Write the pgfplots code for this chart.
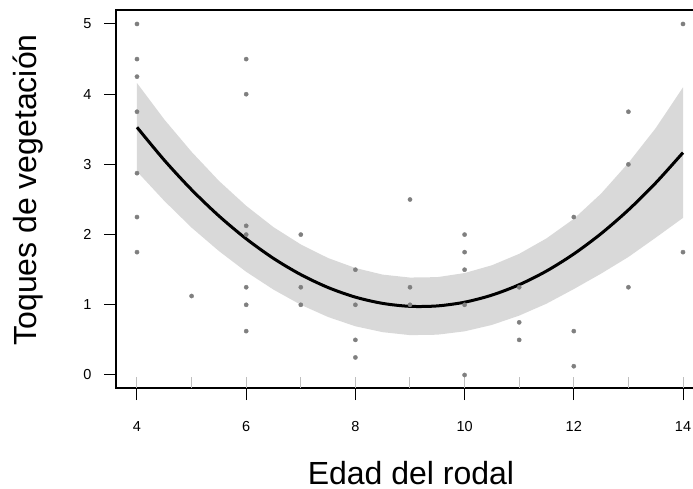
\documentclass[border=0pt]{standalone}
\usepackage{fontspec}
\setmainfont{Liberation Sans}
\usepackage{pgfplots}
\pgfplotsset{compat=1.18}
\definecolor{band}{HTML}{D9D9D9}
\definecolor{pts}{HTML}{7F7F7F}
\definecolor{rug}{HTML}{BFBFBF}
\begin{document}
\begin{tikzpicture}
\begin{axis}[
  scale only axis,
  width=584bp, height=378bp,
  xmin=3.6154, xmax=14.3114,
  ymin=-0.1852, ymax=5.1994,
  axis line style={line width=1.3bp, black},
  xtick={4,6,8,10,12,14},
  ytick={0,1,2,3,4,5},
  xtick pos=left, ytick pos=left,
  tick align=outside,
  major tick length=12bp,
  tick style={line width=1bp, black},
  /pgf/number format/assume math mode=true,
  ticklabel style={font=\fontsize{14.5bp}{17bp}\selectfont},
  xticklabel shift=18bp,
  yticklabel shift=9bp,
  extra x ticks={4,5,6,7,8,9,10,11,12,13,14},
  extra x tick labels={},
  extra x tick style={xtick pos=left, tick align=inside, major tick length=11bp, tick style={line width=1bp, rug}},
  xlabel={Edad del rodal},
  ylabel={Toques de vegetación},
  xlabel style={font=\fontsize{32bp}{38bp}\selectfont, at={(axis description cs:0.5051,-0.2540)}, anchor=base, inner sep=0pt},
  ylabel style={font=\fontsize{32bp}{38bp}\selectfont, at={(axis description cs:-0.1353,0.524)}, anchor=base, rotate=0, inner sep=0pt},
  clip mode=individual,
]
\coordinate (SW) at (rel axis cs:0,0);
\coordinate (NW) at (rel axis cs:0,1);
% confidence band: upper edge left to right, lower edge right to left
\addplot[fill=band, draw=none] coordinates {
(4,4.159) (4.5,3.640) (5,3.179) (5.5,2.766) (6,2.410) (6.5,2.106) (7,1.860) (7.5,1.666) (8,1.524) (8.5,1.430) (9,1.388) (9.5,1.394) (10,1.452) (10.5,1.563) (11,1.726) (11.5,1.946) (12,2.224) (12.5,2.584) (13,3.021) (13.5,3.516) (14,4.098)
(14,2.238) (13.5,1.956) (13,1.681) (12.5,1.444) (12,1.224) (11.5,1.016) (11,0.846) (10.5,0.713) (10,0.622) (9.5,0.574) (9,0.568) (8.5,0.610) (8,0.694) (7.5,0.826) (7,1.000) (6.5,1.216) (6,1.470) (5.5,1.766) (5,2.099) (4.5,2.480) (4,2.899)
} -- cycle;
% fitted curve
\addplot[black, line width=3bp, smooth] coordinates {
(4,3.529) (4.5,3.060) (5,2.639) (5.5,2.266) (6,1.940) (6.5,1.661) (7,1.430) (7.5,1.246) (8,1.109) (8.5,1.020) (9,0.978) (9.5,0.984) (10,1.037) (10.5,1.138) (11,1.286) (11.5,1.481) (12,1.724) (12.5,2.014) (13,2.351) (13.5,2.736) (14,3.168)
};
% observations
\addplot[only marks, mark=*, mark size=2.1bp, mark options={draw=pts, fill=pts}] coordinates {
(4,5) (4,4.5) (4,4.25) (4,3.75) (4,2.875) (4,2.25) (4,1.75)
(5,1.125)
(6,4.5) (6,4) (6,2.125) (6,2) (6,1.25) (6,1) (6,0.625)
(7,2) (7,1.25) (7,1)
(8,1.5) (8,1) (8,0.5) (8,0.25)
(9,2.5) (9,1.25) (9,1)
(10,2) (10,1.75) (10,1.5) (10,1) (10,0)
(11,1.25) (11,0.75) (11,0.5)
(12,2.25) (12,0.625) (12,0.125)
(13,3.75) (13,3) (13,1.25)
(14,5) (14,1.75)
};
\end{axis}
\pgfresetboundingbox
\path[use as bounding box] ([xshift=-116bp,yshift=-101bp]SW) rectangle ([xshift=577bp,yshift=10bp]NW);
\end{tikzpicture}
\end{document}
